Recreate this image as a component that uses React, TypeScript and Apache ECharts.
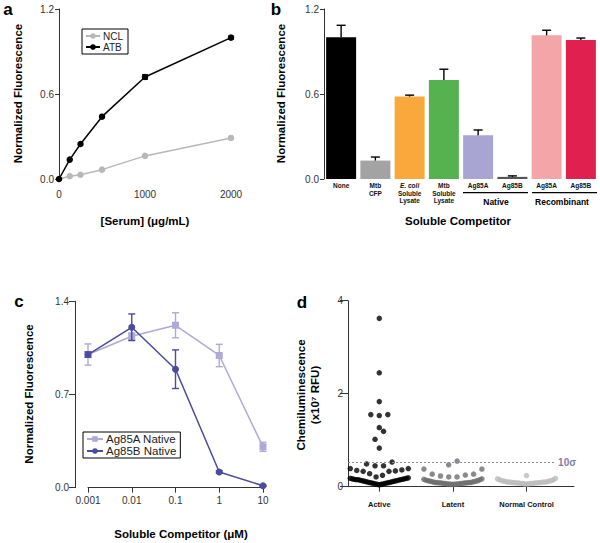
import React, { useEffect, useRef } from 'react';
import * as echarts from 'echarts';

const FONT = "'Liberation Sans', Arial, Helvetica, sans-serif";

// ---------- Panel a ----------
const serumConc = [0, 125, 250, 500, 1000, 2000];
const nclValues = [0, 0.02, 0.03, 0.066, 0.163, 0.29];
const atbValues = [0, 0.137, 0.247, 0.44, 0.72, 0.998];
const atbErrors = [0, 0, 0, 0, 0.015, 0.01];

// ---------- Panel b ----------
const competitorKeys = ['None', 'Mtb CFP', 'E. coli Lysate', 'Mtb Lysate', 'Native Ag85A', 'Native Ag85B', 'Recombinant Ag85A', 'Recombinant Ag85B'];
const competitorLabels = ['None', 'Mtb\nCFP', '{it|E. coli}\nSoluble\nLysate', 'Mtb\nSoluble\nLysate', 'Ag85A', 'Ag85B', 'Ag85A', 'Ag85B'];
const competitorMeans = [1.0, 0.13, 0.582, 0.698, 0.308, 0.015, 1.014, 0.981];
const competitorUpper = [1.085, 0.155, 0.592, 0.775, 0.346, 0.022, 1.05, 0.995];
const competitorGroups = ['Native', 'Recombinant'];
const barColors = ['#000000', '#a3a3a3', '#f9a93c', '#56b14f', '#a9a5d3', '#555555', '#f3a5a8', '#e0204f'];

// ---------- Panel c ----------
const concValues = [0.001, 0.01, 0.1, 1, 10];
const concLabels = ['0.001', '0.01', '0.1', '1', '10'];
const ag85aMeans = [1.0, 1.137, 1.22, 0.993, 0.307];
const ag85aErrors = [0.08, 0.025, 0.094, 0.084, 0.034];
const ag85bMeans = [1.0, 1.205, 0.89, 0.118, 0.015];
const ag85bErrors = [0.02, 0.1, 0.145, 0.01, 0.005];

// ---------- Panel d ----------
const groupNames = ['Active', 'Latent', 'Normal Control'];
const activeValues = [
  3.62, 2.45, 1.83, 1.55, 1.53, 1.55, 1.27, 1.19, 1.02, 0.83,
  0.53, 0.49, 0.45, 0.45,
  0.39, 0.36, 0.35, 0.34, 0.33, 0.33, 0.28, 0.245, 0.21, 0.39,
  0.04, 0.05, 0.05, 0.06, 0.06, 0.07, 0.07, 0.08, 0.08, 0.09, 0.09, 0.10, 0.10, 0.11, 0.11,
  0.12, 0.12, 0.13, 0.13, 0.14, 0.14, 0.15, 0.15, 0.15, 0.16, 0.16, 0.17, 0.17, 0.18, 0.18, 0.19,
];
const latentValues = [
  0.55, 0.47, 0.38, 0.38, 0.27, 0.25, 0.27, 0.21, 0.23, 0.21,
  0.05, 0.05, 0.05, 0.06, 0.06, 0.06, 0.06, 0.07, 0.07, 0.07, 0.07, 0.08, 0.08, 0.08, 0.08,
  0.09, 0.09, 0.09, 0.09, 0.10, 0.10, 0.11, 0.11, 0.12, 0.12, 0.13, 0.13, 0.14, 0.15, 0.16, 0.17,
];
const normalValues = [
  0.24,
  0.06, 0.06, 0.06, 0.07, 0.07, 0.07, 0.07, 0.08, 0.08, 0.08, 0.08, 0.09, 0.09, 0.09, 0.09,
  0.10, 0.10, 0.10, 0.10, 0.11, 0.11, 0.12, 0.12, 0.13, 0.13, 0.15, 0.15, 0.17, 0.18,
];
const sigmaThreshold = 0.53;

// swarm layout (Prism-like rows)
const D_XMIN = -0.425;
const D_XMAX = 2.645;
const D_GRID_W = 226;
function swarm(values: number[], center: number) {
  const pxPerUnit = D_GRID_W / (D_XMAX - D_XMIN);
  const BIN = 0.2, MAXW = 58, STEP = 8.5;
  const bins = new Map<number, number[]>();
  values.forEach((v) => {
    const b = Math.floor(v / BIN + 1e-9);
    if (!bins.has(b)) bins.set(b, []);
    bins.get(b)!.push(v);
  });
  const out: number[][] = [];
  bins.forEach((list) => {
    list.sort((a, b) => a - b);
    const n = list.length;
    const step = n > 1 ? Math.min(STEP, MAXW / (n - 1)) : 0;
    list.forEach((v, i) => {
      let k: number;
      if (n % 2 === 1) k = i === 0 ? 0 : i % 2 === 1 ? -Math.ceil(i / 2) : Math.ceil(i / 2);
      else k = i % 2 === 0 ? -(i / 2 + 0.5) : (i - 1) / 2 + 0.5;
      out.push([center + (k * step) / pxPerUnit, v]);
    });
  });
  return out;
}

const errorBarRender = (capHalf: number, color: string, both: boolean) => (params: any, api: any) => {
  const x = api.value(0);
  const lo = api.coord([x, api.value(1)]);
  const hi = api.coord([x, api.value(2)]);
  const style = { stroke: color, lineWidth: 1.4, fill: 'none' };
  const children: any[] = [
    { type: 'line', shape: { x1: hi[0], y1: hi[1], x2: lo[0], y2: lo[1] }, style },
    { type: 'line', shape: { x1: hi[0] - capHalf, y1: hi[1], x2: hi[0] + capHalf, y2: hi[1] }, style },
  ];
  if (both) children.push({ type: 'line', shape: { x1: lo[0] - capHalf, y1: lo[1], x2: lo[0] + capHalf, y2: lo[1] }, style });
  return { type: 'group', children };
};

const axisLineStyle = { color: '#333', width: 1 };
const tickLabel = { fontSize: 10, color: '#333', fontFamily: FONT };

function txt(text: string, x: number, y: number, font: string, opts: any = {}) {
  return {
    type: 'text',
    x,
    y,
    rotation: opts.rotation || 0,
    silent: true,
    style: {
      text,
      font,
      fill: opts.fill || '#000',
      align: 'center',
      verticalAlign: 'middle',
      textAlign: 'center',
      textVerticalAlign: 'middle',
    },
  };
}

export default function App() {
  const ref = useRef<HTMLDivElement>(null);
  useEffect(() => {
    document.body.style.margin = '0';
    const chart = echarts.init(ref.current!, null, { renderer: 'svg' });
    const titleFont = `bold 11.5px ${FONT}`;
    const letterFont = `bold 17px ${FONT}`;
    const option: any = {
      animation: false,
      backgroundColor: '#fff',
      textStyle: { fontFamily: FONT },
      grid: [
        { left: 59, top: 9, width: 172, height: 170 },
        { left: 324, top: 9, width: 274, height: 170 },
        { left: 88, top: 301.3, width: 175, height: 186.4 },
        { left: 348, top: 300.7, width: D_GRID_W, height: 186 },
      ],
      xAxis: [
        {
          gridIndex: 0, type: 'value', min: 0, max: 2000, interval: 1000,
          axisLine: { show: false, onZero: false }, axisTick: { show: false }, splitLine: { show: false },
          axisLabel: { ...tickLabel, margin: 10, formatter: (v: number) => String(v) },
        },
        {
          gridIndex: 1, type: 'category', data: competitorKeys,
          axisLine: { show: false, onZero: false }, axisTick: { show: false },
          axisLabel: {
            interval: 0, margin: 3, fontSize: 6.5, fontWeight: 'bold', color: '#111', lineHeight: 7.5, fontFamily: FONT,
            formatter: (_v: string, i: number) => competitorLabels[i],
            rich: { it: { fontSize: 6.5, fontWeight: 'bold', fontStyle: 'italic', color: '#111', lineHeight: 7.5, fontFamily: FONT } },
          },
        },
        {
          gridIndex: 2, type: 'log', logBase: 10, min: 0.001, max: 10,
          axisLine: { show: true, onZero: false, lineStyle: axisLineStyle },
          axisTick: { show: true, length: 5, lineStyle: axisLineStyle },
          splitLine: { show: false }, minorTick: { show: false },
          axisLabel: {
            ...tickLabel, margin: 8,
            formatter: (v: number) => concLabels[Math.round(Math.log10(v)) + 3] ?? '',
          },
        },
        {
          gridIndex: 3, type: 'value', min: D_XMIN, max: D_XMAX,
          axisLine: { show: true, onZero: false, lineStyle: axisLineStyle },
          axisTick: { show: true, length: 5, lineStyle: axisLineStyle, customValues: [0, 1, 2] },
          splitLine: { show: false },
          axisLabel: {
            customValues: [0, 1, 2], margin: 14, fontSize: 7.5, fontWeight: 'bold', color: '#111', fontFamily: FONT,
            formatter: (v: number) => groupNames[Math.round(v)] ?? '',
          },
        },
      ],
      yAxis: [
        {
          gridIndex: 0, type: 'value', min: 0, max: 1.2, interval: 0.6,
          axisLine: { show: true, onZero: false, lineStyle: axisLineStyle },
          axisTick: { show: true, length: 4, lineStyle: axisLineStyle },
          splitLine: { show: false },
          axisLabel: { ...tickLabel, margin: 5, formatter: (v: number) => v.toFixed(1) },
        },
        {
          gridIndex: 1, type: 'value', min: 0, max: 1.2, interval: 0.6,
          axisLine: { show: true, onZero: false, lineStyle: axisLineStyle },
          axisTick: { show: true, length: 4, lineStyle: axisLineStyle },
          splitLine: { show: false },
          axisLabel: { ...tickLabel, margin: 5, formatter: (v: number) => v.toFixed(1) },
        },
        {
          gridIndex: 2, type: 'value', min: 0, max: 1.4, interval: 0.7, offset: 13,
          axisLine: { show: true, onZero: false, lineStyle: axisLineStyle },
          axisTick: { show: true, length: 6, lineStyle: axisLineStyle },
          splitLine: { show: false },
          axisLabel: { ...tickLabel, margin: 6, formatter: (v: number) => v.toFixed(1) },
        },
        {
          gridIndex: 3, type: 'value', min: 0, max: 4, interval: 2,
          axisLine: { show: true, onZero: false, lineStyle: axisLineStyle },
          axisTick: { show: true, length: 8, lineStyle: axisLineStyle },
          splitLine: { show: false },
          axisLabel: { ...tickLabel, margin: 5 },
        },
      ],
      legend: [
        {
          data: ['NCL', 'ATB'], orient: 'vertical', left: 82, top: 29,
          borderColor: '#000', borderWidth: 1, padding: [2, 5, 2, 3], itemGap: 1,
          itemWidth: 14, itemHeight: 7, selectedMode: false,
          textStyle: { fontSize: 10, color: '#222', fontFamily: FONT, padding: [0, 0, 0, -2] },
        },
        {
          data: ['Ag85A Native', 'Ag85B Native'], orient: 'vertical', left: 83, top: 432,
          borderColor: '#000', borderWidth: 1, padding: [1, 4, 1, 3], itemGap: 0,
          itemWidth: 16, itemHeight: 7, selectedMode: false,
          textStyle: { fontSize: 11.5, color: '#222', fontFamily: FONT, padding: [0, 0, 0, -2] },
        },
      ],
      series: [
        // Panel a
        {
          name: 'NCL', type: 'line', xAxisIndex: 0, yAxisIndex: 0, z: 3,
          data: serumConc.map((x, i) => [x, nclValues[i]]),
          symbol: 'circle', symbolSize: 6.5, clip: false,
          itemStyle: { color: '#b8b8b8' }, lineStyle: { color: '#b8b8b8', width: 1.5 },
        },
        {
          name: 'ATB', type: 'line', xAxisIndex: 0, yAxisIndex: 0, z: 4,
          data: serumConc.map((x, i) => [x, atbValues[i]]),
          symbol: 'circle', symbolSize: 6.5, clip: false,
          itemStyle: { color: '#000' }, lineStyle: { color: '#000', width: 1.5 },
        },
        {
          name: 'ATB err', type: 'custom', xAxisIndex: 0, yAxisIndex: 0, z: 5,
          data: serumConc.map((x, i) => [x, atbValues[i] - atbErrors[i], atbValues[i] + atbErrors[i]]).filter((_, i) => atbErrors[i] > 0),
          encode: { x: 0, y: [1, 2] },
          renderItem: errorBarRender(3, '#000', true),
        },
        // Panel b
        {
          name: 'Competitor', type: 'bar', xAxisIndex: 1, yAxisIndex: 1, barWidth: 30,
          data: competitorMeans.map((v, i) => ({ value: v, itemStyle: { color: barColors[i] } })),
        },
        {
          name: 'Competitor err', type: 'custom', xAxisIndex: 1, yAxisIndex: 1, z: 5,
          data: competitorMeans.map((v, i) => [i, v, competitorUpper[i]]),
          encode: { x: 0, y: [1, 2] },
          renderItem: errorBarRender(4.5, '#000', false),
        },
        // Panel c
        {
          name: 'Ag85A err', type: 'custom', xAxisIndex: 2, yAxisIndex: 2, z: 2,
          data: concValues.map((x, i) => [x, ag85aMeans[i] - ag85aErrors[i], ag85aMeans[i] + ag85aErrors[i]]),
          encode: { x: 0, y: [1, 2] },
          renderItem: errorBarRender(3.5, '#aeaad6', true),
        },
        {
          name: 'Ag85A Native', type: 'line', xAxisIndex: 2, yAxisIndex: 2, z: 3,
          data: concValues.map((x, i) => [x, ag85aMeans[i]]),
          symbol: 'rect', symbolSize: 7, clip: false,
          itemStyle: { color: '#aeaad6' }, lineStyle: { color: '#aeaad6', width: 1.5 },
        },
        {
          name: 'Ag85B err', type: 'custom', xAxisIndex: 2, yAxisIndex: 2, z: 4,
          data: concValues.map((x, i) => [x, ag85bMeans[i] - ag85bErrors[i], ag85bMeans[i] + ag85bErrors[i]]),
          encode: { x: 0, y: [1, 2] },
          renderItem: errorBarRender(3.5, '#4b4a9e', true),
        },
        {
          name: 'Ag85B Native', type: 'line', xAxisIndex: 2, yAxisIndex: 2, z: 5,
          data: concValues.map((x, i) => [x, ag85bMeans[i]]),
          symbol: 'circle', symbolSize: 7, clip: false,
          itemStyle: { color: '#4b4a9e' }, lineStyle: { color: '#4b4a9e', width: 1.5 },
        },
        // Panel d
        {
          name: 'Active', type: 'scatter', xAxisIndex: 3, yAxisIndex: 3, z: 4,
          data: swarm(activeValues, 0), symbolSize: 5.5, itemStyle: { color: '#000' },
          markLine: {
            silent: true, symbol: ['none', 'none'],
            lineStyle: { type: [2, 2], color: '#8c8aa8', width: 1 },
            label: { show: true, position: 'end', formatter: '10σ', color: '#7f7da6', fontSize: 10, fontWeight: 'bold', fontFamily: FONT, distance: 3 },
            data: [[{ coord: [D_XMIN, sigmaThreshold] }, { coord: [2.388, sigmaThreshold] }]],
          },
        },
        {
          name: 'Latent', type: 'scatter', xAxisIndex: 3, yAxisIndex: 3, z: 4,
          data: swarm(latentValues, 1), symbolSize: 5.5, itemStyle: { color: '#6e6e6e' },
        },
        {
          name: 'Normal Control', type: 'scatter', xAxisIndex: 3, yAxisIndex: 3, z: 4,
          data: swarm(normalValues, 2), symbolSize: 5.5, itemStyle: { color: '#bdbdbd' },
        },
      ],
      graphic: [
        txt('a', 8, 9.5, letterFont),
        txt('b', 276, 9.5, letterFont),
        txt('c', 19, 301.3, letterFont),
        txt('d', 302, 302.5, letterFont),
        txt('Normalized Fluorescence', 17.5, 93.5, titleFont, { rotation: Math.PI / 2 }),
        txt('[Serum] (μg/mL)', 145, 221, titleFont),
        txt('Normalized Fluorescence', 280.5, 93.5, titleFont, { rotation: Math.PI / 2 }),
        txt('Soluble Competitor', 458, 221, titleFont),
        { type: 'line', silent: true, shape: { x1: 463, y1: 192.7, x2: 528, y2: 192.7 }, style: { stroke: '#000', lineWidth: 1.3 } },
        { type: 'line', silent: true, shape: { x1: 532, y1: 192.7, x2: 597, y2: 192.7 }, style: { stroke: '#000', lineWidth: 1.3 } },
        txt(competitorGroups[0], 496, 201.5, `bold 8.5px ${FONT}`),
        txt(competitorGroups[1], 562, 201.5, `bold 8.5px ${FONT}`),
        txt('Normalized Fluorescence', 29, 394, titleFont, { rotation: Math.PI / 2 }),
        txt('Soluble Competitor (μM)', 181, 534, titleFont),
        txt('Chemiluminescence', 301, 395, titleFont, { rotation: Math.PI / 2 }),
        txt('(x10⁷ RFU)', 315, 395, titleFont, { rotation: Math.PI / 2 }),
      ],
    };
    chart.setOption(option);
    return () => chart.dispose();
  }, []);
  return <div ref={ref} style={{ width: 600, height: 543 }} />;
}
